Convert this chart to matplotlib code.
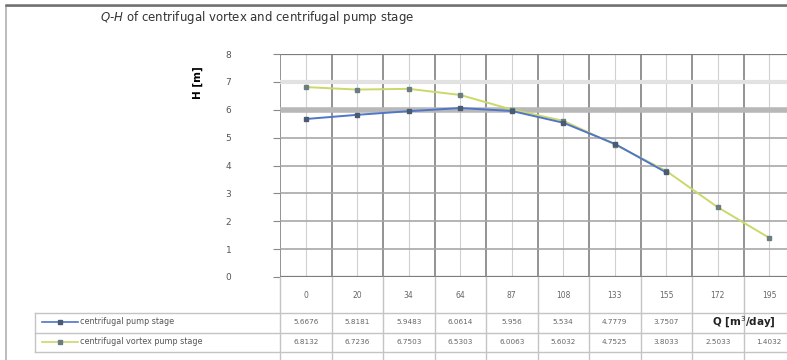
import matplotlib
matplotlib.use("Agg")
import matplotlib.pyplot as plt
import matplotlib.transforms as mtransforms
import numpy as np

W, H = 787, 360

# data (Q in m3/day, H in m)
q_labels = ["0", "20", "34", "64", "87", "108", "133", "155", "172", "195"]
h_pump = [5.6676, 5.8181, 5.9483, 6.0614, 5.956, 5.534, 4.7779, 3.7507, np.nan, np.nan]
h_vortex = [6.8132, 6.7236, 6.7503, 6.5303, 6.0063, 5.6032, 4.7525, 3.8033, 2.5033, 1.4032]
pump_cells = ["5.6676", "5.8181", "5.9483", "6.0614", "5.956", "5.534", "4.7779", "3.7507", "", ""]
vortex_cells = ["6.8132", "6.7236", "6.7503", "6.5303", "6.0063", "5.6032", "4.7525", "3.8033", "2.5033", "1.4032"]

PUMP, VORTEX, MARK = "#4f76c9", "#cbd86a", "#6b7d80"

fig = plt.figure(figsize=(W / 100, H / 100), dpi=100)
fig.patches.append(plt.Rectangle((6 / W, -0.02), 1.0, 1 - 6 / H + 0.02, transform=fig.transFigure,
                                 fill=False, ec="#b0b0b0", lw=1.2))
fig.add_artist(plt.Line2D([6 / W, 1], [1 - 5 / H] * 2, transform=fig.transFigure, color="#707070", lw=1.8))

px = lambda x: x / W
py = lambda y: 1 - y / H
ax = fig.add_axes([px(280), py(277), px(795) - px(280), py(54) - py(277)])

x = np.arange(len(q_labels))
ax.set_xlim(-0.5, len(q_labels) - 0.5)
ax.set_ylim(0, 8)

# grid: dark lines at category edges / integer H, light ones at category centres
for xb in np.arange(-0.5, len(q_labels) + 0.5, 1):
    ax.axvline(xb, color="#8a8a8a", lw=1.3, zorder=1)
for xc in x:
    ax.axvline(xc, color="#d0d0d0", lw=0.8, zorder=1)
for yv in range(0, 9):
    ax.axhline(yv, color="#7c7c7c" if yv in (0, 8) else "#a8a8a8", lw=1.6 if yv in (0, 6, 8) else 1.2, zorder=1)
ax.axhline(6, color="#b8b8b8", lw=4, zorder=1)
ax.axhline(7, color="#e2e2e2", lw=3, zorder=1)

ax.plot(x, h_vortex, color=VORTEX, lw=1.4, marker="s", ms=3, mfc=MARK, mec=MARK, zorder=3)
ax.plot(x, h_pump, color=PUMP, lw=1.4, marker="s", ms=3, mfc="#4a5a70", mec="#4a5a70", zorder=4)

for s in ax.spines.values():
    s.set_visible(False)
ax.set_xticks([])
ax.set_yticks(range(0, 9))
ax.tick_params(axis="y", length=5, color="#888888", labelsize=6.5, labelcolor="#555555", pad=30)
ax.set_ylabel("H [m]", fontsize=7.5, fontweight="bold")
ax.yaxis.set_label_coords(-0.15, 0.87)

fig.text(px(100), py(18), "$Q$-$H$ of centrifugal vortex and centrifugal pump stage",
         fontsize=8.5, color="#333333", va="center")

# data table under the plot
tr = mtransforms.blended_transform_factory(ax.transData, fig.transFigure)
for xb in np.arange(-0.5, len(q_labels) + 0.5, 1):
    ax.plot([xb, xb], [py(277), py(362)], transform=tr, color="#c4c4c4", lw=1.0, clip_on=False)
for yl in (313, 333, 352):
    fig.add_artist(plt.Line2D([px(35), 1], [py(yl)] * 2, transform=fig.transFigure, color="#c4c4c4", lw=1.0))
fig.add_artist(plt.Line2D([px(35)] * 2, [py(313), py(352)], transform=fig.transFigure, color="#c4c4c4", lw=1.0))

for i, lab in enumerate(q_labels):
    ax.text(x[i], py(296), lab, transform=tr, ha="center", va="center", fontsize=5.5, color="#666666")
    ax.text(x[i], py(322), pump_cells[i], transform=tr, ha="center", va="center", fontsize=5.2, color="#666666")
    ax.text(x[i], py(342), vortex_cells[i], transform=tr, ha="center", va="center", fontsize=5.2, color="#666666")

ax.text(8.5, py(322), "Q [m$^3$/day]", transform=tr, ha="center", va="center", fontsize=7.5,
        fontweight="bold", color="#222222")

for yrow, col, mc, name in ((322, PUMP, "#4a5a70", "centrifugal pump stage"),
                            (342, VORTEX, MARK, "centrifugal vortex pump stage")):
    fig.add_artist(plt.Line2D([px(42), px(78)], [py(yrow)] * 2, transform=fig.transFigure, color=col, lw=1.2))
    fig.add_artist(plt.Line2D([px(60)], [py(yrow)], transform=fig.transFigure, marker="s", ms=2.5,
                              mfc=mc, mec=mc, lw=0))
    fig.text(px(80), py(yrow), name, fontsize=5.8, color="#555555", va="center")

fig.savefig("out.png", dpi=100)
